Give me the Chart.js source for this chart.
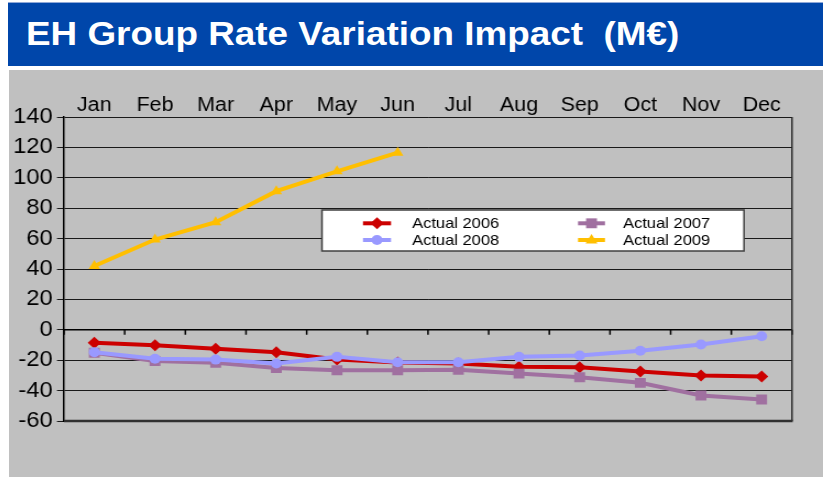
<!DOCTYPE html>
<html>
<head>
<meta charset="utf-8">
<script src="https://cdn.jsdelivr.net/npm/chart.js@4.4.1/dist/chart.umd.min.js"></script>
<style>
  html, body { margin:0; padding:0; background:#ffffff; width:823px; height:477px; overflow:hidden; }
  #bar { position:absolute; left:8px; top:2px; width:815px; height:64px; background:#0046AA; border-top:1px solid #8fa8d8; box-sizing:border-box; }
  #title { position:absolute; left:26px; top:17px; margin:0; font-family:"Liberation Sans", Arial, sans-serif; font-weight:bold; font-size:33.5px; line-height:1; color:#ffffff; white-space:pre; transform:scaleX(1.1); transform-origin:left top; }
  #panel { position:absolute; left:9px; top:70px; width:814px; height:407px; background:#C0C0C0; }
  #wrap { position:absolute; left:9px; top:70px; width:740px; height:407px; transform:scaleX(1.1); transform-origin:left top; }
  #c { display:block; }
</style>
</head>
<body>
<div id="bar"></div>
<div id="title">EH Group Rate Variation Impact  (M€)</div>
<div id="panel"></div>
<div id="wrap"><canvas id="c" width="740" height="407"></canvas></div>
<script>
// ---- data ----
const months = ["Jan","Feb","Mar","Apr","May","Jun","Jul","Aug","Sep","Oct","Nov","Dec"];
const actual2006 = [-8.6, -10.1, -12.5, -14.7, -19.5, -21.5, -22.2, -24.3, -24.6, -27.4, -30.1, -30.7];
const actual2007 = [-15.1, -20.6, -21.7, -25.2, -26.6, -26.6, -26.3, -28.8, -31.2, -34.9, -43.2, -45.9];
const actual2008 = [-14.7, -19.1, -19.6, -22.2, -17.8, -21.3, -21.3, -17.8, -16.9, -13.8, -9.7, -4.2];
const actual2009 = [42, 59.4, 70.8, 91.2, 104.3, 116.5, null, null, null, null, null, null];
const seriesNames = ["Actual 2006", "Actual 2007", "Actual 2008", "Actual 2009"];
const yTickLabels = ["-60","-40","-20","0","20","40","60","80","100","120","140"];

const colors = ["#CC0000", "#A070A0", "#9999FF", "#FFBF00"];
const styles = ["rectRot", "rect", "circle", "triangle"];
const radii = [6, 7, 5, 6];
const FONT = "'Liberation Sans', Arial, sans-serif";

function drawMarker(ctx, style, x, y, r, color) {
  ctx.save();
  ctx.fillStyle = color;
  ctx.beginPath();
  if (style === 'rectRot') {
    ctx.moveTo(x, y - r); ctx.lineTo(x + r, y); ctx.lineTo(x, y + r); ctx.lineTo(x - r, y);
  } else if (style === 'rect') {
    const s = r * Math.SQRT1_2;
    ctx.rect(x - s, y - s, 2 * s, 2 * s);
  } else if (style === 'circle') {
    ctx.arc(x, y, r, 0, Math.PI * 2);
  } else if (style === 'triangle') {
    ctx.moveTo(x, y - r); ctx.lineTo(x + r * 0.9, y + r * 0.6); ctx.lineTo(x - r * 0.9, y + r * 0.6);
  }
  ctx.closePath();
  ctx.fill();
  ctx.restore();
}

const frameAndZero = {
  id: 'frameAndZero',
  beforeDatasetsDraw(chart) {
    const {ctx, chartArea: a, scales: {x, y}} = chart;
    const y0 = y.getPixelForValue(0);
    ctx.save();
    ctx.strokeStyle = '#000';
    ctx.lineWidth = 1.5;
    ctx.beginPath();
    ctx.moveTo(a.left, y0); ctx.lineTo(a.right, y0);
    const n = chart.data.labels.length;
    for (let i = 0; i <= n; i++) {
      let bx;
      if (i === 0) bx = a.left;
      else if (i === n) bx = a.right;
      else bx = (x.getPixelForValue(i - 1) + x.getPixelForValue(i)) / 2;
      ctx.moveTo(bx, y0); ctx.lineTo(bx, y0 + 5);
    }
    ctx.stroke();
    ctx.strokeStyle = '#222';
    ctx.lineWidth = 1.4;
    ctx.beginPath();
    ctx.moveTo(a.right, a.top); ctx.lineTo(a.right, a.bottom);
    ctx.stroke();
    ctx.strokeStyle = '#303030';
    ctx.lineWidth = 2.5;
    ctx.beginPath();
    ctx.moveTo(a.left, a.bottom); ctx.lineTo(a.right + 0.7, a.bottom);
    ctx.stroke();
    ctx.restore();
  }
};

const legendBox = {
  id: 'legendBox',
  afterDatasetsDraw(chart) {
    const ctx = chart.ctx;
    ctx.save();
    const bx = 284.5, by = 140, bw = 383.7, bh = 41;
    ctx.fillStyle = '#fff';
    ctx.fillRect(bx, by, bw, bh);
    ctx.strokeStyle = '#404040';
    ctx.lineWidth = 1.5;
    ctx.strokeRect(bx, by, bw, bh);
    const cols = [{s0: 321.8, s1: 347.3, t: 366.4}, {s0: 517.3, s1: 541.8, t: 558.2}];
    const rows = [153.3, 170];
    ctx.font = '15px ' + FONT;
    ctx.textBaseline = 'middle';
    ctx.textAlign = 'left';
    chart.data.datasets.forEach((ds, i) => {
      const c = cols[i % 2], ry = rows[Math.floor(i / 2)];
      ctx.strokeStyle = colors[i];
      ctx.lineWidth = 4;
      ctx.beginPath();
      ctx.moveTo(c.s0, ry); ctx.lineTo(c.s1, ry);
      ctx.stroke();
      drawMarker(ctx, styles[i], (c.s0 + c.s1) / 2, ry, radii[i], colors[i]);
      ctx.fillStyle = '#000';
      ctx.fillText(ds.label, c.t, ry + 1);
    });
    ctx.restore();
  }
};

const seriesData = [actual2006, actual2007, actual2008, actual2009];
const datasets = seriesData.map((d, i) => ({
  label: seriesNames[i],
  data: d,
  borderColor: colors[i],
  backgroundColor: colors[i],
  borderWidth: 4,
  pointStyle: styles[i],
  pointRadius: radii[i],
  pointBorderWidth: 0,
  pointBackgroundColor: colors[i],
  tension: 0,
  spanGaps: false,
  order: 4 - i
}));

new Chart(document.getElementById('c'), {
  type: 'line',
  data: { labels: months, datasets },
  options: {
    responsive: false,
    devicePixelRatio: 1,
    animation: false,
    layout: { padding: { left: 0, top: 0, right: 28.2, bottom: 56 } },
    plugins: { legend: { display: false }, tooltip: { enabled: false } },
    scales: {
      x: {
        position: 'top',
        offset: true,
        grid: { display: false, drawTicks: false },
        border: { display: false },
        ticks: { color: '#000', padding: 0, font: { family: FONT, size: 19.5 }, maxRotation: 0, autoSkip: false },
        afterFit: s => { s.height = 47; }
      },
      y: {
        min: -60, max: 140,
        grid: { color: '#1a1a1a', lineWidth: 1, tickLength: 6.4, drawTicks: true },
        border: { display: true, color: '#000', width: 1.5 },
        ticks: {
          stepSize: 20, color: '#000', padding: 4,
          font: { family: FONT, size: 21.5 },
          callback: (v) => yTickLabels[Math.round((v + 60) / 20)]
        },
        afterFit: s => { s.width = 50; }
      }
    }
  },
  plugins: [frameAndZero, legendBox]
});
</script>
</body>
</html>
